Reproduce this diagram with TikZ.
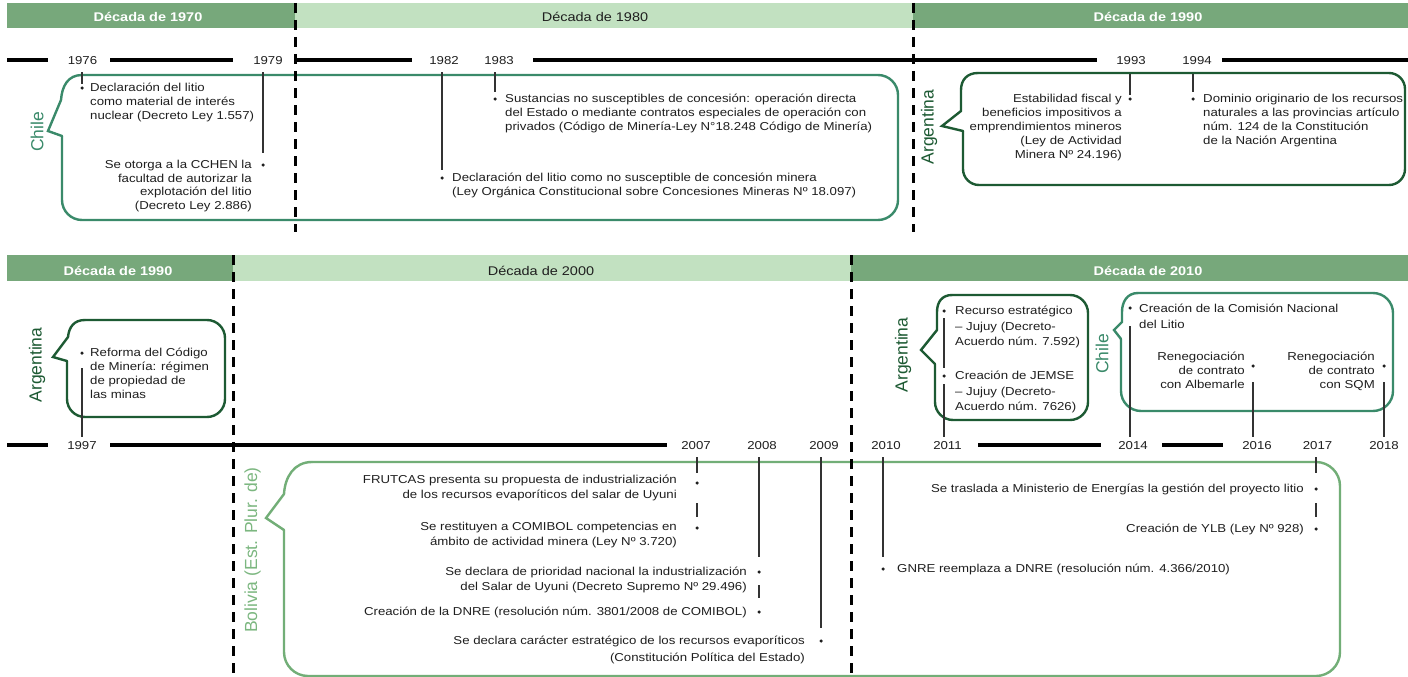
\documentclass[tikz,border=0pt]{standalone}
\usepackage{fontspec}
\setmainfont{Liberation Sans}[FakeStretch=1.15]
\newfontfamily\labfont{Liberation Sans}
\definecolor{hdark}{HTML}{77A87B}
\definecolor{hlight}{HTML}{C2E1C1}
\definecolor{chilec}{HTML}{3A8A6A}
\definecolor{argc}{HTML}{1D5A33}
\definecolor{bolc}{HTML}{72AE77}
\definecolor{bollab}{HTML}{7CB780}
\definecolor{txtc}{HTML}{1F1F1F}
\definecolor{ldc}{HTML}{333333}
\newcommand\bodyf{\fontsize{11.5}{14}\selectfont\lineskiplimit=-30pt\relax}
\newcommand\hdrf{\fontsize{12.6}{15}\selectfont}
\newcommand\labf{\labfont\fontsize{17.5}{20}\selectfont}
\newcommand\fl{\rule{0pt}{11pt}}
\begin{document}
\begin{tikzpicture}[x=1pt,y=-1pt,
  hdrB/.style={anchor=base, inner sep=0pt, font=\hdrf\bfseries, text=white},
  hdrL/.style={anchor=base, inner sep=0pt, font=\hdrf, text=txtc},
  yr/.style={anchor=base, inner sep=0pt, font=\bodyf, text=txtc},
  tL/.style={anchor=north west, align=left, inner sep=0pt, font=\bodyf, text=txtc, yshift=7.4pt},
  tR/.style={anchor=north east, align=right, inner sep=0pt, font=\bodyf, text=txtc, yshift=7.4pt},
  lab/.style={inner sep=0pt, font=\labf, rotate=90},
  bul/.style={circle, fill=txtc, inner sep=0pt, minimum size=3.5pt},
  ld/.style={draw=ldc, line width=1.3pt},
  tline/.style={line width=3.8pt, black},
  dsh/.style={line width=3pt, black, dash pattern=on 10pt off 7pt},
  cbox/.style={line width=2.4pt, line cap=round, line join=round},
  tailp/.style={line width=2.4pt, line cap=round, line join=miter}]
\useasboundingbox (0,0) rectangle (1408,677);
\fill[white] (0,0) rectangle (1408,677);

% header bars
\fill[hdark] (7,3) rectangle (295,28);
\fill[hlight] (295,3) rectangle (913,28);
\fill[hdark] (913,3) rectangle (1408,28);
\fill[hdark] (7,255) rectangle (233,281);
\fill[hlight] (233,255) rectangle (851,281);
\fill[hdark] (851,255) rectangle (1408,281);
\node[hdrB] (h1) at (148,21.5) {Década de 1970};
\node[hdrL] (h2) at (595,21.5) {Década de 1980};
\node[hdrB] (h3) at (1148,21.5) {Década de 1990};
\node[hdrB] (h4) at (118,275) {Década de 1990};
\node[hdrL] (h5) at (541,275) {Década de 2000};
\node[hdrB] (h6) at (1148,275) {Década de 2010};

% callout boxes
\draw[cbox, chilec, rounded corners=20pt] (62,136) -- (62,220) -- (898,220) -- (898,75) -- (82,75);
\draw[tailp, chilec] (82,75) .. controls (68,75) and (62,86) .. (61,100) -- (48,131) -- (62,136);

\draw[cbox, argc, rounded corners=16pt] (963,131) -- (963,185) -- (1405,185) -- (1405,73) -- (978,73);
\draw[tailp, argc] (978,73) .. controls (967,73) and (961,80) .. (961,90) -- (961,111) -- (942,126) -- (963,131);

\draw[cbox, argc, rounded corners=18pt] (67,361) -- (67,417) -- (225,417) -- (225,320) -- (85,320);
\draw[tailp, argc] (85,320) .. controls (74,320) and (69,327) .. (68,337) -- (53,357) -- (67,361);

\draw[cbox, argc, rounded corners=18pt] (935,364) -- (935,420) -- (1088,420) -- (1088,295) -- (952,295);
\draw[tailp, argc] (952,295) .. controls (942,295) and (937,302) .. (937,312) -- (937,330) -- (921,350) -- (935,364);

\draw[cbox, chilec, rounded corners=20pt] (1121,339) -- (1121,411) -- (1393,411) -- (1393,293) -- (1138,293);
\draw[tailp, chilec] (1138,293) .. controls (1127,293) and (1122,302) .. (1122,312) -- (1122,322) -- (1114,330) -- (1121,339);

\draw[cbox, bolc, rounded corners=24pt] (284,530) -- (284,676) -- (1340,676) -- (1340,462) -- (312,462);
\draw[tailp, bolc] (312,462) .. controls (294,462) and (285,477) .. (284,494) -- (266,518) -- (284,530);

% country labels
\node[lab, text=chilec] (lchile1) at (37,132) {Chile};
\node[lab, text=argc] (larg1) at (929,127) {Argentina};
\node[lab, text=argc] (larg2) at (37,365) {Argentina};
\node[lab, text=argc] (larg3) at (903,355) {Argentina};
\node[lab, text=chilec] (lchile2) at (1102,354) {Chile};
\node[lab, text=bollab] (lbol) at (252.5,550) {Bolivia (Est. Plur. de)};

% timelines
\draw[tline] (7,60) -- (48,60) (110,60) -- (233,60) (295,60) -- (412,60) (533,60) -- (1097,60) (1222,60) -- (1408,60);
\draw[tline] (7,445) -- (48,445) (110,445) -- (667,445) (978,445) -- (1101,445) (1162,445) -- (1223,445);

% years
\node[yr] (y1976) at (82.5,64.1) {1976};
\node[yr] (y1979) at (268,64.1) {1979};
\node[yr] (y1982) at (444,64.1) {1982};
\node[yr] (y1983) at (499,64.1) {1983};
\node[yr] (y1993) at (1131,64.1) {1993};
\node[yr] (y1994) at (1197,64.1) {1994};
\node[yr] (y1997) at (82,449.1) {1997};
\node[yr] (y2007) at (696,449.1) {2007};
\node[yr] (y2008) at (762,449.1) {2008};
\node[yr] (y2009) at (824,449.1) {2009};
\node[yr] (y2010) at (886,449.1) {2010};
\node[yr] (y2011) at (947.5,449.1) {2011};
\node[yr] (y2014) at (1133,449.1) {2014};
\node[yr] (y2016) at (1257,449.1) {2016};
\node[yr] (y2017) at (1317.5,449.1) {2017};
\node[yr] (y2018) at (1384,449.1) {2018};

% bullets
\node[bul] (b1976) at (82,88) {};
\node[bul] (b1979) at (263,165) {};
\node[bul] (b1982) at (442,178) {};
\node[bul] (b1983) at (495,99) {};
\node[bul] (b1993) at (1130,99) {};
\node[bul] (b1994) at (1193,99) {};
\node[bul] (b1997) at (82,353) {};
\node[bul] (b2007a) at (697,483) {};
\node[bul] (b2007b) at (697,528) {};
\node[bul] (b2008a) at (759,572) {};
\node[bul] (b2008b) at (759,612) {};
\node[bul] (b2009) at (821,641) {};
\node[bul] (b2010) at (883,569) {};
\node[bul] (b2011a) at (944,311) {};
\node[bul] (b2011b) at (944,376) {};
\node[bul] (b2014) at (1130,308) {};
\node[bul] (b2016) at (1253,366) {};
\node[bul] (b2017a) at (1316,489) {};
\node[bul] (b2017b) at (1316,529) {};
\node[bul] (b2018) at (1384,366) {};

% leader lines
\draw[ld, shorten <=7.9pt, shorten >=2.2pt] (b1976 |- y1976.south) -- (b1976);
\draw[ld, shorten <=7.9pt, shorten >=10.2pt] (b1979 |- y1979.south) -- (b1979);
\draw[ld, shorten <=7.9pt, shorten >=6.2pt] (b1982 |- y1982.south) -- (b1982);
\draw[ld, shorten <=7.9pt, shorten >=5.2pt] (b1983 |- y1983.south) -- (b1983);
\draw[ld, shorten <=9.9pt, shorten >=2.2pt] (b1993 |- y1993.south) -- (b1993);
\draw[ld, shorten <=9.9pt, shorten >=5.2pt] (b1994 |- y1994.south) -- (b1994);
\draw[ld, shorten <=3.9pt, shorten >=13.2pt] (b1997 |- y1997.north) -- (b1997);
\draw[ld, shorten <=7.9pt, shorten >=8.2pt] (b2007a |- y2007.south) -- (b2007a);
\draw[ld, shorten <=18.2pt, shorten >=9.2pt] (b2007a) -- (b2007b);
\draw[ld, shorten <=7.9pt, shorten >=13.2pt] (b2008a |- y2008.south) -- (b2008a);
\draw[ld, shorten <=11.2pt, shorten >=12.2pt] (b2008a) -- (b2008b);
\draw[ld, shorten <=7.9pt, shorten >=11.2pt] (b2009 |- y2009.south) -- (b2009);
\draw[ld, shorten <=7.9pt, shorten >=10.2pt] (b2010 |- y2010.south) -- (b2010);
\draw[ld, shorten <=3.9pt, shorten >=6.2pt] (b2011b |- y2011.north) -- (b2011b);
\draw[ld, shorten <=6.2pt, shorten >=5.2pt] (b2011b) -- (b2011a);
\draw[ld, shorten <=3.9pt, shorten >=16.2pt] (b2014 |- y2014.north) -- (b2014);
\draw[ld, shorten <=3.9pt, shorten >=14.2pt] (b2016 |- y2016.north) -- (b2016);
\draw[ld, shorten <=7.9pt, shorten >=14.2pt] (b2017a |- y2017.south) -- (b2017a);
\draw[ld, shorten <=12.2pt, shorten >=10.2pt] (b2017a) -- (b2017b);
\draw[ld, shorten <=3.9pt, shorten >=14.2pt] (b2018 |- y2018.north) -- (b2018);

% texts top
\node[tL] (t1) at (90,88) {\fl Declaración del litio\\como material de interés\\nuclear (Decreto Ley 1.557)};
\node[tR] (t2) at (252,165) {\fl Se otorga a la CCHEN la\\[-0.6pt]facultad de autorizar la\\[-0.6pt]explotación del litio\\[-0.6pt](Decreto Ley 2.886)};
\node[tL] (t3) at (452,178) {\fl Declaración del litio como no susceptible de concesión minera\\(Ley Orgánica Constitucional sobre Concesiones Mineras Nº 18.097)};
\node[tL] (t4) at (505,99) {\fl Sustancias no susceptibles de concesión: operación directa\\del Estado o mediante contratos especiales de operación con\\privados (Código de Minería-Ley N°18.248 Código de Minería)};
\node[tR] (t5) at (1122,99) {\fl Estabilidad fiscal y\\beneficios impositivos a\\emprendimientos mineros\\(Ley de Actividad\\Minera Nº 24.196)};
\node[tL] (t6) at (1203,99) {\fl Dominio originario de los recursos\\naturales a las provincias artículo\\núm. 124 de la Constitución\\de la Nación Argentina};

% texts bottom
\node[tL] (s1) at (90,353) {\fl Reforma del Código\\de Minería: régimen\\de propiedad de\\las minas};
\node[tL] (s2) at (955,311) {\fl Recurso estratégico\\[1.5pt]– Jujuy (Decreto-\\[1.5pt]Acuerdo núm. 7.592)};
\node[tL] (s3) at (955,376) {\fl Creación de JEMSE\\[1.5pt]– Jujuy (Decreto-\\[1.5pt]Acuerdo núm. 7626)};
\node[tL] (s4) at (1139,309) {\fl Creación de la Comisión Nacional\\[2pt]del Litio};
\node[tR] (s5) at (1245,357) {\fl Renegociación\\de contrato\\con Albemarle};
\node[tR] (s6) at (1375,357) {\fl Renegociación\\de contrato\\con SQM};
\node[tR] (s7) at (677,480) {\fl FRUTCAS presenta su propuesta de industrialización\\[1pt]de los recursos evaporíticos del salar de Uyuni};
\node[tR] (s8) at (677,527) {\fl Se restituyen a COMIBOL competencias en\\[1pt]ámbito de actividad minera (Ley Nº 3.720)};
\node[tR] (s9) at (747,572) {\fl Se declara de prioridad nacional la industrialización\\[1pt]del Salar de Uyuni (Decreto Supremo Nº 29.496)};
\node[tR] (s10) at (747,612) {\fl Creación de la DNRE (resolución núm. 3801/2008 de COMIBOL)};
\node[tR] (s11) at (805,641) {\fl Se declara carácter estratégico de los recursos evaporíticos\\[2.5pt](Constitución Política del Estado)};
\node[tL] (s12) at (897,569) {\fl GNRE reemplaza a DNRE (resolución núm. 4.366/2010)};
\node[tR] (s13) at (1304,489) {\fl Se traslada a Ministerio de Energías la gestión del proyecto litio};
\node[tR] (s14) at (1304,529) {\fl Creación de YLB (Ley Nº 928)};

% decade separators
\draw[dsh] (295,3) -- (295,232);
\draw[dsh] (913,3) -- (913,232);
\draw[dsh] (233,255) -- (233,677);
\draw[dsh] (851,255) -- (851,677);
\end{tikzpicture}
\end{document}
